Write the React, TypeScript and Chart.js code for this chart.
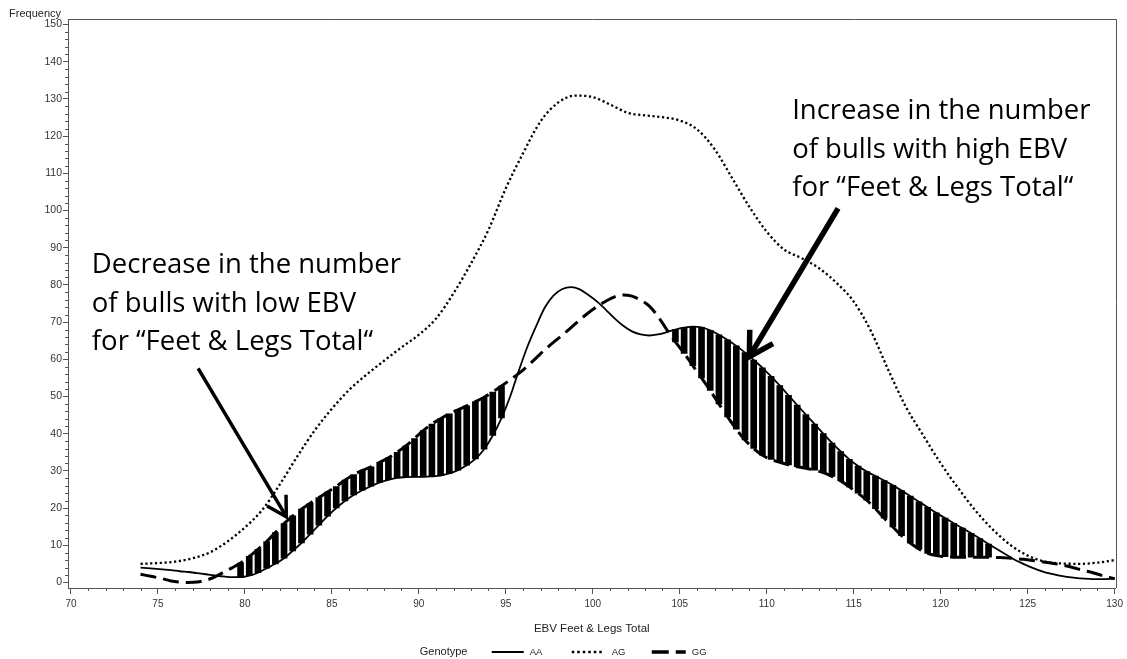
import React, { useEffect, useRef } from 'react';
import { Chart, registerables } from 'chart.js';

Chart.register(...registerables);

// ---- Data ----
// Shared EBV grid for the AA and GG curves
const gridX = [
  74,
  74.75, 75.25, 75.75, 76.25, 76.75, 77.25, 77.75, 78.25, 78.75, 79.25,
  79.75, 80.25, 80.75, 81.25, 81.75, 82.25, 82.75, 83.25, 83.75, 84.25,
  84.75, 85.25, 85.75, 86.25, 86.75, 87.25, 87.75, 88.25, 88.75, 89.25,
  89.75, 90.25, 90.75, 91.25, 91.75, 92.25, 92.75, 93.25, 93.75, 94.25,
  94.75, 95.25, 95.75, 96.25, 96.75, 97.25, 97.75, 98.25, 98.75, 99.25,
  99.75, 100.25, 100.75, 101.25, 101.75, 102.25, 102.75, 103.25, 103.75, 104.25,
  104.75, 105.25, 105.75, 106.25, 106.75, 107.25, 107.75, 108.25, 108.75, 109.25,
  109.75, 110.25, 110.75, 111.25, 111.75, 112.25, 112.75, 113.25, 113.75, 114.25,
  114.75, 115.25, 115.75, 116.25, 116.75, 117.25, 117.75, 118.25, 118.75, 119.25,
  119.75, 120.25, 120.75, 121.25, 121.75, 122.25, 122.75, 123.25, 123.75, 124.25,
  124.75, 125.25, 125.75, 126.25, 126.75, 127.25, 127.75, 128.25, 128.75, 129.25,
  130,
];

const aaValues = [
  4.0,
  3.7, 3.5, 3.3, 3.0, 2.8, 2.5, 2.2, 1.9, 1.6, 1.4,
  1.4, 1.8, 2.6, 3.8, 5.0, 6.5, 8.5, 10.6, 13.0, 15.4,
  17.8, 20.0, 21.9, 23.5, 24.8, 25.9, 26.9, 27.6, 28.1, 28.3,
  28.4, 28.4, 28.5, 28.7, 29.3, 30.2, 31.5, 33.2, 35.8, 39.5,
  44.2, 50.0, 57.0, 63.5, 69.0, 74.0, 77.2, 78.9, 79.4, 78.8,
  77.3, 75.5, 73.3, 71.0, 69.0, 67.5, 66.7, 66.4, 66.7, 67.3,
  68.0, 68.5, 68.8, 68.6, 67.8, 66.6, 65.2, 63.6, 61.8, 59.8,
  57.7, 55.4, 52.9, 50.3, 47.7, 45.1, 42.6, 40.0, 37.5, 35.2,
  33.1, 31.3, 29.8, 28.6, 27.4, 26.1, 24.7, 23.2, 21.7, 20.2,
  18.7, 17.3, 15.9, 14.6, 13.2, 11.8, 10.3, 8.9, 7.5, 6.1,
  5.0, 4.0, 3.1, 2.4, 1.9, 1.5, 1.2, 1.0, 0.9, 0.9,
  1.0,
];

const ggValues = [
  2.2,
  1.5, 1.0, 0.4, 0.1, 0.0, 0.1, 0.6, 1.4, 2.7, 3.9,
  5.2, 7.0, 8.9, 11.0, 13.4, 15.8, 17.9, 19.7, 21.3, 22.8,
  24.3, 25.8, 27.5, 29.0, 30.1, 31.1, 32.3, 33.5, 35.0, 36.7,
  38.7, 40.8, 42.6, 44.0, 45.3, 46.4, 47.5, 48.6, 49.8, 51.2,
  52.8, 54.5, 56.2, 58.2, 60.4, 62.6, 64.6, 66.5, 68.5, 70.6,
  72.5, 74.2, 75.6, 76.8, 77.3, 77.0, 75.9, 74.3, 71.5, 68.0,
  64.7, 61.6, 58.3, 55.0, 51.6, 48.0, 44.5, 41.2, 38.3, 36.0,
  34.2, 33.1, 32.3, 31.6, 31.1, 30.7, 30.2, 29.5, 28.5, 27.3,
  25.7, 24.0, 22.1, 19.8, 17.3, 14.9, 12.6, 10.6, 9.0, 7.8,
  7.2, 6.9, 6.8, 6.8, 6.8, 6.8, 6.8, 6.7, 6.6, 6.4,
  6.2, 5.9, 5.6, 5.3, 4.9, 4.4, 3.8, 3.2, 2.6, 1.9,
  1.0,
];

const agX = [
  74, 75, 76, 77, 78, 79, 80, 81, 82, 83,
  84, 85, 86, 87, 88, 89, 90, 91, 92, 93,
  94, 95, 96, 97, 98, 99, 100, 101, 102, 103,
  104, 105, 106, 107, 108, 109, 110, 111, 112, 113,
  114, 115, 116, 117, 118, 119, 120, 121, 122, 123,
  124, 125, 126, 127, 128, 129, 130,
];

const agValues = [
  5.0, 5.2, 5.6, 6.5, 8.1, 11.0, 14.8, 19.5, 26.3, 33.8,
  40.8, 46.7, 51.8, 55.9, 59.6, 63.2, 66.6, 71.0, 77.8, 85.8,
  94.8, 106.0, 115.5, 124.0, 129.0, 130.9, 130.5, 128.5, 126.3, 125.6,
  125.1, 124.2, 121.8, 116.5, 108.8, 101.0, 94.3, 89.5, 87.2, 84.5,
  80.6, 75.5, 67.5, 57.0, 47.2, 39.5, 32.0, 25.4, 19.3, 14.2,
  10.1, 7.2, 5.6, 5.1, 5.0, 5.3, 6.0,
];

// EBV ranges where the AA/GG difference is hatched
const hatchRanges: [number, number][] = [
  [79.75, 94.75],
  [104.75, 122.75],
];

const xTickValues = [70, 75, 80, 85, 90, 95, 100, 105, 110, 115, 120, 125, 130];
const yTickValues = [0, 10, 20, 30, 40, 50, 60, 70, 80, 90, 100, 110, 120, 130, 140, 150];

const genotypes = ['AA', 'AG', 'GG'];
const xTitle = 'EBV Feet & Legs Total';
const yTitle = 'Frequency';
const legendTitle = 'Genotype';

const leftNote = ['Decrease in the number', 'of bulls with low EBV', 'for \u201CFeet & Legs Total\u201C'];
const rightNote = ['Increase in the number', 'of bulls with high EBV', 'for \u201CFeet & Legs Total\u201C'];

// annotation anchors in data coordinates
const leftNoteAnchor = { x: 71.2, y: 83.2 };
const rightNoteAnchor = { x: 111.46, y: 124.6 };
const leftArrow = { from: { x: 77.31, y: 57.57 }, to: { x: 82.38, y: 17.67 } };
const rightArrow = { from: { x: 114.1, y: 100.6 }, to: { x: 109.0, y: 60.7 } };

const SANS = '"Liberation Sans", Arial, sans-serif';
const AXIS_COLOR = '#555';

function drawArrow(ctx: CanvasRenderingContext2D, x0: number, y0: number, x1: number, y1: number, width: number, head: number) {
  const ang = Math.atan2(y0 - y1, x0 - x1);
  const spread = (30 * Math.PI) / 180;
  ctx.save();
  ctx.strokeStyle = '#000';
  ctx.lineWidth = width;
  ctx.lineCap = 'butt';
  ctx.lineJoin = 'miter';
  ctx.beginPath();
  ctx.moveTo(x0, y0);
  ctx.lineTo(x1, y1);
  ctx.stroke();
  ctx.beginPath();
  ctx.moveTo(x1 + head * Math.cos(ang + spread), y1 + head * Math.sin(ang + spread));
  ctx.lineTo(x1, y1);
  ctx.lineTo(x1 + head * Math.cos(ang - spread), y1 + head * Math.sin(ang - spread));
  ctx.stroke();
  ctx.restore();
}

const decorPlugin = {
  id: 'decor',
  afterDraw(chart: any) {
    const { ctx, chartArea } = chart;
    const { left, right, top, bottom } = chartArea;
    const xs = chart.scales.x;
    const ys = chart.scales.y;
    ctx.save();

    // frame (top and right)
    ctx.strokeStyle = AXIS_COLOR;
    ctx.lineWidth = 1;
    ctx.beginPath();
    ctx.moveTo(left, Math.round(top) + 0.5);
    ctx.lineTo(Math.round(right) + 0.5, Math.round(top) + 0.5);
    ctx.lineTo(Math.round(right) + 0.5, bottom);
    ctx.stroke();

    // minor ticks
    ctx.beginPath();
    for (let v = 71; v < 130; v++) {
      if (v % 5 === 0) continue;
      const px = Math.round(xs.getPixelForValue(v)) + 0.5;
      ctx.moveTo(px, bottom);
      ctx.lineTo(px, bottom + 3);
    }
    for (let v = 2; v < 150; v += 2) {
      if (v % 10 === 0) continue;
      const py = Math.round(ys.getPixelForValue(v)) + 0.5;
      ctx.moveTo(left - 3, py);
      ctx.lineTo(left, py);
    }
    ctx.stroke();

    // y title
    ctx.fillStyle = '#222';
    ctx.font = `11px ${SANS}`;
    ctx.textAlign = 'right';
    ctx.textBaseline = 'middle';
    ctx.fillText(yTitle, left - 7, top - 5);

    // x title
    const cx = (left + right) / 2;
    ctx.textAlign = 'center';
    ctx.font = `11.5px ${SANS}`;
    ctx.fillText(xTitle, cx, bottom + 41);

    // legend
    const ly = bottom + 64;
    const lx = cx - 172;
    ctx.textAlign = 'left';
    ctx.font = `11px ${SANS}`;
    ctx.fillText(legendTitle, lx, ly);
    ctx.font = `9.5px ${SANS}`;
    const styles = [
      { dash: [] as number[], w: 2, x0: 72, x1: 104, tx: 110 },
      { dash: [2.5, 3], w: 2.5, x0: 152, x1: 182, tx: 192 },
      { dash: [17, 7], w: 3.5, x0: 232, x1: 266, tx: 272 },
    ];
    genotypes.forEach((g, i) => {
      const s = styles[i];
      ctx.save();
      ctx.strokeStyle = '#000';
      ctx.lineWidth = s.w;
      ctx.setLineDash(s.dash);
      ctx.beginPath();
      ctx.moveTo(lx + s.x0, ly);
      ctx.lineTo(lx + s.x1, ly);
      ctx.stroke();
      ctx.restore();
      ctx.fillStyle = '#222';
      ctx.fillText(g, lx + s.tx, ly);
    });

    // annotations
    ctx.fillStyle = '#000';
    ctx.font = '27.5px "Open Sans", "Noto Sans", sans-serif';
    ctx.textAlign = 'left';
    ctx.textBaseline = 'alphabetic';
    const drawNote = (lines: string[], a: { x: number; y: number }) => {
      const px = xs.getPixelForValue(a.x);
      const py = ys.getPixelForValue(a.y);
      lines.forEach((t, i) => ctx.fillText(t, px, py + i * 38.5));
    };
    drawNote(leftNote, leftNoteAnchor);
    drawNote(rightNote, rightNoteAnchor);

    drawArrow(
      ctx,
      xs.getPixelForValue(leftArrow.from.x), ys.getPixelForValue(leftArrow.from.y),
      xs.getPixelForValue(leftArrow.to.x), ys.getPixelForValue(leftArrow.to.y),
      3.5, 22,
    );
    drawArrow(
      ctx,
      xs.getPixelForValue(rightArrow.from.x), ys.getPixelForValue(rightArrow.from.y),
      xs.getPixelForValue(rightArrow.to.x), ys.getPixelForValue(rightArrow.to.y),
      5.5, 27,
    );

    ctx.restore();
  },
};

export default function App() {
  const ref = useRef<HTMLCanvasElement | null>(null);

  useEffect(() => {
    if (!ref.current) return;
    const aaPoints = gridX.map((x, i) => ({ x, y: aaValues[i] }));
    const ggPoints = gridX.map((x, i) => ({ x, y: ggValues[i] }));
    const agPoints = agX.map((x, i) => ({ x, y: agValues[i] }));
    const hatchBars = gridX
      .map((x, i) => ({ x, y: [Math.min(aaValues[i], ggValues[i]), Math.max(aaValues[i], ggValues[i])] }))
      .filter((p) => hatchRanges.some(([a, b]) => p.x >= a && p.x <= b));

    const xTickFont = { family: SANS, size: 10 };
    const yTickFont = { family: SANS, size: 10.5 };

    const chart = new Chart(ref.current, {
      type: 'bar',
      data: {
        datasets: [
          {
            type: 'bar',
            label: 'hatch',
            data: hatchBars as any,
            backgroundColor: '#000',
            borderWidth: 0,
            barThickness: 6,
            grouped: false,
            order: 10,
          } as any,
          {
            type: 'line',
            label: 'AA',
            data: aaPoints,
            borderColor: '#000',
            borderWidth: 1.8,
            pointRadius: 0,
            fill: false,
            cubicInterpolationMode: 'monotone',
            order: 1,
          },
          {
            type: 'line',
            label: 'AG',
            data: agPoints,
            borderColor: '#000',
            borderWidth: 2.3,
            borderDash: [2.2, 2.6],
            pointRadius: 0,
            fill: false,
            cubicInterpolationMode: 'monotone',
            order: 1,
          },
          {
            type: 'line',
            label: 'GG',
            data: ggPoints,
            borderColor: '#000',
            borderWidth: 3,
            borderDash: [16, 7],
            pointRadius: 0,
            fill: false,
            cubicInterpolationMode: 'monotone',
            order: 1,
          },
        ] as any,
      },
      options: {
        responsive: false,
        animation: false,
        layout: { padding: { top: 19, right: 10, left: 0, bottom: 0 } },
        plugins: {
          legend: { display: false },
          tooltip: { enabled: false },
        },
        scales: {
          x: {
            type: 'linear',
            min: 69.83,
            max: 130.05,
            offset: false,
            afterFit: (s: any) => {
              s.height = 71;
            },
            afterBuildTicks: (s: any) => {
              s.ticks = xTickValues.map((v) => ({ value: v }));
            },
            grid: {
              offset: false,
              drawOnChartArea: false,
              drawTicks: true,
              tickLength: 6,
              tickColor: AXIS_COLOR,
              tickWidth: 1,
            },
            border: { display: true, color: AXIS_COLOR, width: 1 },
            ticks: {
              font: xTickFont,
              color: '#333',
              padding: 4,
              maxRotation: 0,
              autoSkip: false,
              callback: (v: any) => String(v),
            },
          },
          y: {
            type: 'linear',
            min: -1.5,
            max: 151.5,
            afterFit: (s: any) => {
              s.width = 68;
            },
            afterBuildTicks: (s: any) => {
              s.ticks = yTickValues.map((v) => ({ value: v }));
            },
            grid: {
              drawOnChartArea: false,
              drawTicks: true,
              tickLength: 5,
              tickColor: AXIS_COLOR,
              tickWidth: 1,
            },
            border: { display: true, color: AXIS_COLOR, width: 1 },
            ticks: {
              font: yTickFont,
              color: '#333',
              padding: 1,
              autoSkip: false,
              callback: (v: any) => String(v),
            },
          },
        },
      } as any,
      plugins: [decorPlugin],
    });
    return () => chart.destroy();
  }, []);

  return (
    <div style={{ position: 'fixed', left: 0, top: 0, width: 1127, height: 659, background: '#fff' }}>
      <canvas ref={ref} width={1127} height={659} style={{ display: 'block' }} />
    </div>
  );
}
